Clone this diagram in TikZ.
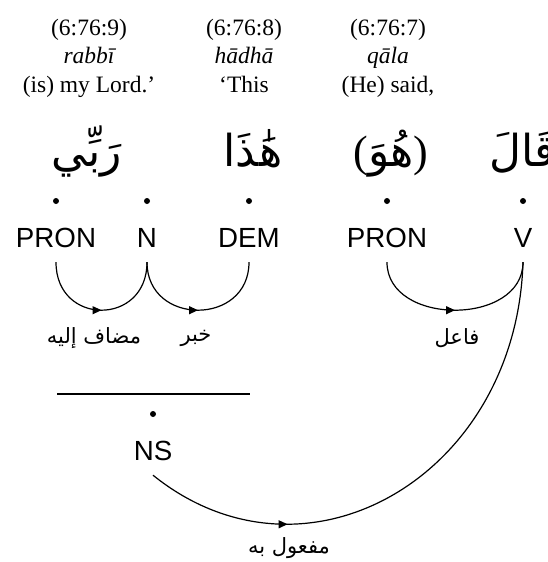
\documentclass[tikz,border=0pt]{standalone}
\usepackage{fontspec}
\setmainfont{Liberation Serif}
\newfontfamily\tagfont{Liberation Sans}
\newfontfamily\arabicfont[Script=Arabic]{DejaVu Sans}
\usetikzlibrary{arrows.meta,decorations.markings}
\TeXXeTstate=1
\tikzset{
  hdr/.style={font=\fontsize{23.5}{28}\selectfont, anchor=base, inner sep=0pt},
  hdri/.style={font=\fontsize{23.5}{28}\selectfont\itshape, anchor=base, inner sep=0pt},
  tag/.style={font=\tagfont\fontsize{27.7}{30}\selectfont, anchor=base, text height=20pt, text depth=0pt, inner xsep=0pt, inner ysep=15pt},
  dotnode/.style={circle, fill=black, inner sep=0pt, minimum size=6pt},
  word/.style={font=\arabicfont\fontsize{44}{48}\selectfont, anchor=base, inner sep=0pt},
  lbl/.style={font=\arabicfont\fontsize{21}{24}\selectfont, inner sep=0pt},
  dep/.style={line width=1.2pt, postaction={decorate}, decoration={markings, mark=at position #1 with {\arrow{Triangle[length=9pt,width=8pt]}}}},
  phrase/.style={line width=1.2pt},
}
\begin{document}
\begin{tikzpicture}[x=1pt,y=-1pt]
\useasboundingbox (0,0) rectangle (547,562);
\clip (0,0) rectangle (547,562);
% headers
\node[hdr]  (h1a) at (89,35) {(6:76:9)};
\node[hdri] (h1b) at (89,63) {rabbī};
\node[hdr]  (h1c) at (89,92) {(is) my Lord.’};
\node[hdr]  (h2a) at (244,35) {(6:76:8)};
\node[hdri] (h2b) at (244,63) {hādhā};
\node[hdr]  (h2c) at (244,92) {‘This};
\node[hdr]  (h3a) at (388,35) {(6:76:7)};
\node[hdri] (h3b) at (388,63) {qāla};
\node[hdr]  (h3c) at (388,92) {(He) said,};
% arabic words
\node[word] (w1) at (87,166) {\beginR رَبِّي\endR};
\node[word] (w2) at (253,166) {\beginR هَٰذَا\endR};
\node[word] (w3) at (391,166) {{\rmfamily (}\beginR هُوَ\endR{\rmfamily )}};
\node[word, anchor=base west] (w4) at (489,166) {\beginR قَالَ\endR};
% dots
\node[dotnode] (d1) at (56,201) {};
\node[dotnode] (d2) at (147,201) {};
\node[dotnode] (d3) at (249,201) {};
\node[dotnode] (d4) at (387,201) {};
\node[dotnode] (d5) at (523,201) {};
% tags
\node[tag] (pron1) at (56,247) {PRON};
\node[tag] (n) at (147,247) {N};
\node[tag] (dem) at (249,247) {DEM};
\node[tag] (pron2) at (387,247) {PRON};
\node[tag] (v) at (523,247) {V};
% phrase
\coordinate (hl) at (57,394);
\coordinate (hr) at (250,394);
\draw[phrase] (hl) -- (hr);
\node[dotnode] (d6) at (153,414) {};
\node[tag] (ns) at (153,460) {NS};
% arcs
\draw[dep=0.5] (pron1.south) .. controls +(0,64) and +(0,64) .. (n.south);
\draw[dep=0.5] (n.south) .. controls +(0,64) and +(0,64) .. (dem.south);
\draw[dep=0.5] (pron2.south) .. controls +(0,64) and +(0,64) .. (v.south);
\draw[dep=0.273] (ns.south) .. controls +(152.7,122.9) and +(-6.5,214) .. (v.south);
% labels
\node[lbl] (l1) at (94,338) {\beginR مضاف إليه\endR};
\node[lbl] (l2) at (196,338) {\beginR خبر\endR};
\node[lbl] (l3) at (457,338) {\beginR فاعل\endR};
\node[lbl] (l4) at (289,548) {\beginR مفعول به\endR};
\end{tikzpicture}
\end{document}
